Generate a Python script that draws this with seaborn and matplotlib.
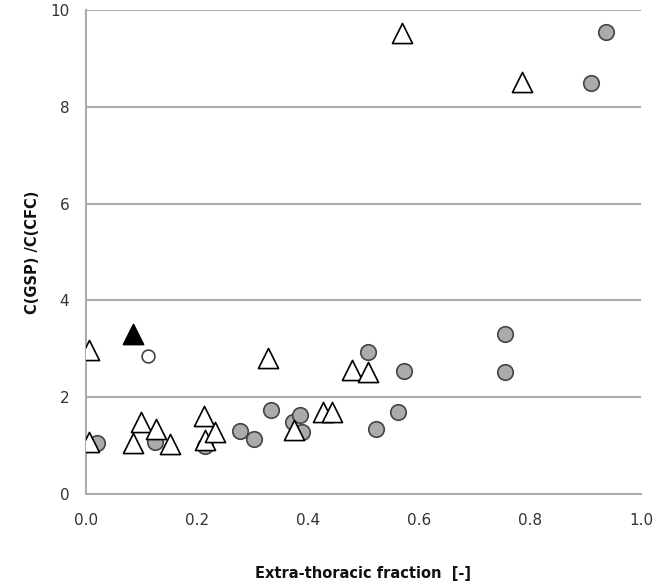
import numpy as np
import pandas as pd
import matplotlib
matplotlib.use('Agg')
import matplotlib.pyplot as plt
import seaborn as sns

# grey filled circles
circle_x = [0.02, 0.124, 0.215, 0.277, 0.303, 0.333, 0.373, 0.385, 0.39,
            0.508, 0.573, 0.562, 0.522, 0.755, 0.755, 0.937, 0.91]
circle_y = [1.05, 1.07, 1.0, 1.3, 1.14, 1.74, 1.49, 1.63, 1.28,
            2.93, 2.54, 1.69, 1.34, 3.3, 2.52, 9.55, 8.49]

# open triangles
tri_x = [0.005, 0.005, 0.1, 0.085, 0.127, 0.152, 0.213, 0.215, 0.232,
         0.375, 0.427, 0.443, 0.48, 0.508, 0.328, 0.57, 0.786]
tri_y = [2.97, 1.07, 1.49, 1.05, 1.34, 1.04, 1.61, 1.11, 1.28,
         1.32, 1.7, 1.7, 2.56, 2.52, 2.81, 9.52, 8.51]

# single special points
black_tri_x = [0.085]
black_tri_y = [3.3]
open_circle_x = [0.112]
open_circle_y = [2.85]

df_c = pd.DataFrame({'x': circle_x, 'y': circle_y})
df_t = pd.DataFrame({'x': tri_x, 'y': tri_y})
df_bt = pd.DataFrame({'x': black_tri_x, 'y': black_tri_y})
df_oc = pd.DataFrame({'x': open_circle_x, 'y': open_circle_y})

sns.set_style('white')
plt.rcParams['font.family'] = ['DejaVu Sans']

fig = plt.figure(figsize=(6.56, 5.86), dpi=100)
ax = fig.add_axes([0.131, 0.157, 0.846, 0.826])

sns.scatterplot(data=df_c, x='x', y='y', marker='o', s=125, color='#ababab',
                edgecolor='#444444', linewidth=1.2, ax=ax, zorder=3)
sns.scatterplot(data=df_t, x='x', y='y', marker='^', s=210, color='white',
                edgecolor='black', linewidth=1.2, ax=ax, zorder=4)
sns.scatterplot(data=df_bt, x='x', y='y', marker='^', s=210, color='black',
                edgecolor='black', linewidth=1.2, ax=ax, zorder=4)
sns.scatterplot(data=df_oc, x='x', y='y', marker='o', s=85, color='white',
                edgecolor='#444444', linewidth=1.2, ax=ax, zorder=4)

ax.set_xlim(0, 1.0)
ax.set_ylim(0, 10)
ax.set_xticks(np.arange(0, 1.01, 0.2))
ax.set_yticks(np.arange(0, 10.1, 2))
ax.set_xticklabels(['0.0', '0.2', '0.4', '0.6', '0.8', '1.0'])
ax.set_yticklabels(['0', '2', '4', '6', '8', '10'])
ax.yaxis.grid(True, color='#ababab', linewidth=1.5)
ax.set_axisbelow(True)

for side in ['top', 'right']:
    ax.spines[side].set_visible(False)
for side in ['left', 'bottom']:
    ax.spines[side].set_color('#ababab')
    ax.spines[side].set_linewidth(1.5)

ax.tick_params(axis='both', which='major', direction='out', length=6, width=1.5,
               color='#ababab', labelsize=11, labelcolor='#333333', pad=6)
ax.tick_params(axis='x', pad=8)

ax.set_xlabel('Extra-thoracic fraction  [-]', fontsize=10.5, fontweight='bold',
              labelpad=27, color='#111111')
ax.set_ylabel('C(GSP) /C(CFC)', fontsize=10.5, fontweight='bold',
              labelpad=7, color='#111111')

fig.savefig('out.png', dpi=100)
